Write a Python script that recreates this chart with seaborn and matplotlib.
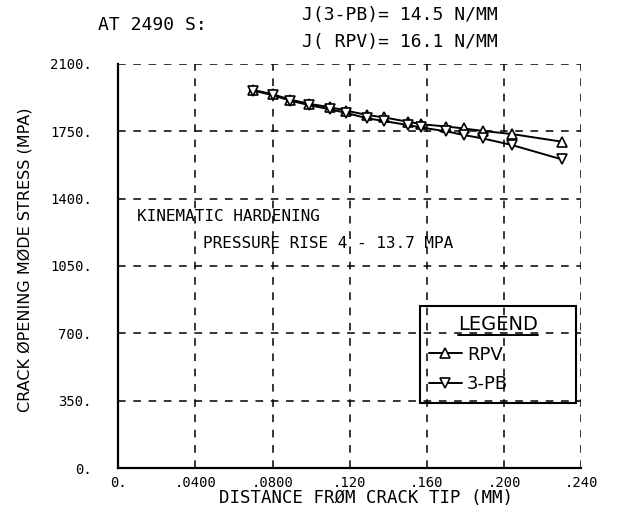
import numpy as np
import pandas as pd
import matplotlib
matplotlib.use("Agg")
import matplotlib.pyplot as plt
import seaborn as sns
from matplotlib.lines import Line2D

# --- data ---
distance = [0.070, 0.080, 0.089, 0.099, 0.110, 0.118, 0.129, 0.138,
            0.150, 0.157, 0.170, 0.179, 0.189, 0.204, 0.230]
stress_rpv = [1965, 1943, 1915, 1893, 1875, 1858, 1835, 1822,
              1800, 1787, 1775, 1765, 1752, 1736, 1696]
stress_3pb = [1962, 1938, 1910, 1886, 1864, 1846, 1818, 1803,
              1783, 1770, 1750, 1731, 1713, 1679, 1604]
series_names = ["RPV", "3-PB"]
series_markers = {"RPV": "^", "3-PB": "v"}

x_ticks = [0, 0.04, 0.08, 0.12, 0.16, 0.20, 0.24]
x_tick_labels = ["0.", ".0400", ".0800", ".120", ".160", ".200", ".240"]
y_ticks = [0, 350, 700, 1050, 1400, 1750, 2100]
y_tick_labels = ["0.", "350.", "700.", "1050.", "1400.", "1750.", "2100."]

df = pd.concat([
    pd.DataFrame({"distance": distance, "stress": stress_rpv, "case": "RPV"}),
    pd.DataFrame({"distance": distance, "stress": stress_3pb, "case": "3-PB"}),
], ignore_index=True)

sns.set_style("white")
plt.rcParams["font.family"] = ["DejaVu Sans Mono", "DejaVu Sans"]
plt.rcParams["text.color"] = "black"
plt.rcParams["axes.labelcolor"] = "black"

fig = plt.figure(figsize=(6.25, 5.16), dpi=100)
ax = fig.add_axes([0.189, 0.093, 0.741, 0.783])

sns.lineplot(data=df, x="distance", y="stress", style="case",
             style_order=series_names, markers=series_markers, dashes=False,
             color="black", lw=1.4, markersize=7, markerfacecolor="white",
             markeredgecolor="black", markeredgewidth=1.2,
             errorbar=None, legend=False, ax=ax)
for line in ax.lines:
    line.set_markerfacecolor("white")
    line.set_markeredgecolor("black")

ax.set_xlim(0, 0.24)
ax.set_ylim(0, 2100)
ax.set_xticks(x_ticks)
ax.set_xticklabels(x_tick_labels)
ax.set_yticks(y_ticks)
ax.set_yticklabels(y_tick_labels)
ax.tick_params(axis="x", direction="inout", length=10, width=1.3, pad=1,
               labelsize=10, colors="black")
ax.tick_params(axis="y", direction="out", length=13, width=1.3, pad=6,
               labelsize=10, colors="black")

ax.grid(True, color="black", linestyle=(0, (5, 5)), linewidth=1.1)
for side in ["top", "right"]:
    ax.spines[side].set_visible(False)
for side in ["left", "bottom"]:
    ax.spines[side].set_color("black")
    ax.spines[side].set_linewidth(1.6)

ax.set_xlabel("DISTANCE FRØM CRACK TIP (MM)", fontsize=12.5)
ax.xaxis.set_label_coords(0.536, -0.052)
ax.set_ylabel("CRACK ØPENING MØDE STRESS (MPA)", fontsize=11.5,
              family="DejaVu Sans")
ax.yaxis.set_label_coords(-0.185, 0.515)

ax.text(0.0097, 1306, "KINEMATIC HARDENING", fontsize=11.5, va="center")
ax.text(0.0439, 1168, "PRESSURE RISE 4 - 13.7 MPA", fontsize=11.5, va="center")

fig.text(0.157, 0.951, "AT 2490 S:", fontsize=13, va="center")
fig.text(0.483, 0.971, "J(3-PB)= 14.5 N/MM", fontsize=13, va="center")
fig.text(0.483, 0.919, "J( RPV)= 16.1 N/MM", fontsize=13, va="center")

leg = ax.legend(ax.lines[:2], series_names, title="LEGEND",
                loc="upper left", bbox_to_anchor=(0.652, 0.168, 0.337, 0.233),
                mode="expand", borderaxespad=0, fancybox=False,
                framealpha=1, facecolor="none", edgecolor="black",
                title_fontsize=14, handlelength=1.8, handletextpad=0.3,
                borderpad=0.5, labelspacing=0.65,
                prop={"family": "DejaVu Sans", "size": 13})
leg.get_frame().set_linewidth(1.5)
leg.get_title().set_family("DejaVu Sans")

# underline the legend title
fig.canvas.draw()
bb = leg.get_title().get_window_extent().transformed(fig.transFigure.inverted())
fig.add_artist(Line2D([bb.x0, bb.x1], [bb.y0 - 0.002, bb.y0 - 0.002],
                      color="black", lw=1.4, transform=fig.transFigure))

fig.savefig("out.png", dpi=100)
